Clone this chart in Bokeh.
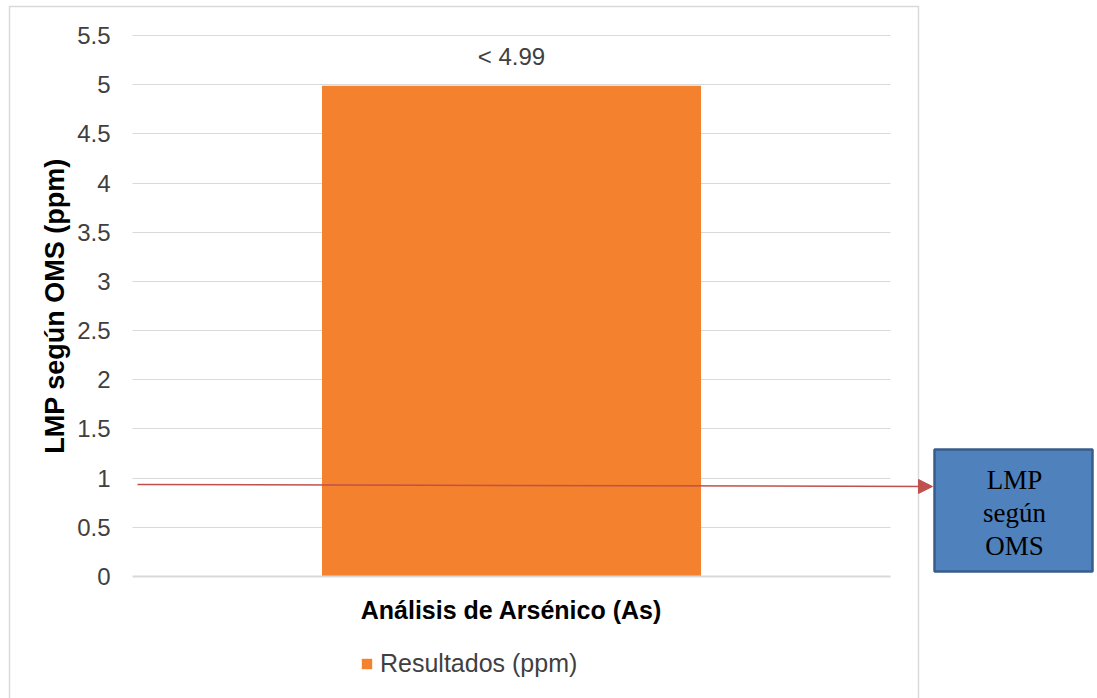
from bokeh.plotting import figure
from bokeh.models import (Range1d, ColumnDataSource, Legend, LegendItem, Arrow, Grid,
                          NormalHead, BoxAnnotation, Label, FixedTicker)
from bokeh.embed import file_html
from bokeh.resources import INLINE
from bokeh.core.properties import value

categories = ["Análisis de Arsénico (As)"]
series_name = "Resultados (ppm)"
values = [4.99]
value_labels = ["< 4.99"]
y_ticks = [0, 0.5, 1, 1.5, 2, 2.5, 3, 3.5, 4, 4.5, 5, 5.5]
y_title = "LMP según OMS (ppm)"
box_text = "LMP\nsegún\nOMS"
lmp_arrow_y = [0.935, 0.915]

FONT = "Liberation Sans"
SERIF = "Liberation Serif"

W, H = 1097, 698
# plot-area geometry (pixels) -> data ranges
PL, PR, PT, PB = 132, 890, 35, 576
xs = (PR - PL) / len(categories)
ys = (PB - PT) / 5.5
x_range = Range1d(-PL / xs, (W - PL) / xs)
y_range = Range1d(-(H - PB) / ys, PB / ys)

p = figure(width=W, height=H, x_range=x_range, y_range=y_range,
           output_backend="svg", toolbar_location=None,
           min_border=0, min_border_left=0, min_border_right=0,
           min_border_top=0, min_border_bottom=0)
p.outline_line_color = None
p.background_fill_color = "white"
p.border_fill_color = "white"

xpos = [i + 0.5 for i in range(len(categories))]
src = ColumnDataSource(dict(x=xpos, top=values, lab=value_labels))

# outer chart border
p.add_layout(BoxAnnotation(left=(9 - PL) / xs, right=(918 - PL) / xs, top=(PB - 6) / ys,
                           bottom=-2.5, fill_color=None, line_color="#D9D9D9", line_alpha=1,
                           line_width=1.5))

# grid lines limited to the plot area
p.xgrid.grid_line_color = None
p.ygrid.grid_line_color = None
grid = Grid(dimension=1, ticker=FixedTicker(ticks=y_ticks[1:]), grid_line_color="#D9D9D9",
            grid_line_width=1)
if "cross_bounds" in Grid.properties():
    grid.cross_bounds = (0, len(categories))
    p.add_layout(grid)
else:
    p.segment(x0=0, x1=len(categories), y0=y_ticks[1:], y1=y_ticks[1:],
              line_color="#D9D9D9", line_width=1)

r = p.vbar(x="x", top="top", width=0.5, source=src, fill_color="#F3812E", line_color=None)
p.text(x="x", y="top", text="lab", source=src, text_align="center", text_baseline="alphabetic",
       y_offset=-29, text_font=value(FONT), text_font_size="24px", text_color="#404040")

# y axis
p.yaxis.fixed_location = 0
p.yaxis.bounds = (0, 5.5)
p.yaxis.ticker = FixedTicker(ticks=y_ticks)
p.yaxis.axis_line_color = None
p.yaxis.major_tick_line_color = None
p.yaxis.major_tick_out = 0
p.yaxis.minor_tick_line_color = None
p.yaxis.major_label_text_font = FONT
p.yaxis.major_label_text_font_size = "24px"
p.yaxis.major_label_text_color = "#404040"
p.yaxis.major_label_standoff = 22
p.yaxis.axis_label = y_title
p.yaxis.axis_label_text_font = FONT
p.yaxis.axis_label_text_font_style = "bold"
p.yaxis.axis_label_text_font_size = "27px"
p.yaxis.axis_label_text_color = "black"
p.yaxis.axis_label_standoff = 4

# x axis (baseline + category label)
p.xaxis.fixed_location = 0
p.xaxis.bounds = (0, len(categories))
p.xaxis.ticker = FixedTicker(ticks=xpos)
p.xaxis.major_label_overrides = {xp: c for xp, c in zip(xpos, categories)}
p.xaxis.axis_line_color = "#D9D9D9"
p.xaxis.axis_line_width = 2
p.xaxis.major_tick_line_color = None
p.xaxis.major_tick_out = 0
p.xaxis.minor_tick_line_color = None
p.xaxis.major_label_text_font = FONT
p.xaxis.major_label_text_font_style = "bold"
p.xaxis.major_label_text_font_size = "25px"
p.xaxis.major_label_text_color = "black"
p.xaxis.major_label_standoff = 19

# legend
leg = Legend(items=[LegendItem(label=series_name, renderers=[r])], location=(360, 20),
             orientation="horizontal", label_text_font=FONT, label_text_font_size="25px",
             label_text_color="#404040", glyph_width=13, glyph_height=13, padding=0, margin=0,
             border_line_color=None, background_fill_alpha=0, label_standoff=7)
p.add_layout(leg, "center")

# LMP arrow
p.add_layout(Arrow(x_start=5 / xs, y_start=lmp_arrow_y[0], x_end=(932 - PL) / xs,
                   y_end=lmp_arrow_y[1], line_color="#C0504D", line_width=1.5,
                   end=NormalHead(size=14, fill_color="#C0504D", line_color="#C0504D")))

# blue box
p.add_layout(BoxAnnotation(left=(934 - PL) / xs, right=(1092 - PL) / xs, top=(PB - 449) / ys,
                           bottom=(PB - 571) / ys, fill_color="#4F81BD", fill_alpha=1,
                           line_color="#385D8A", line_alpha=1, line_width=2.5))
p.add_layout(Label(x=(1014 - PL) / xs, y=(PB - 512) / ys, text=box_text, text_align="center",
                   text_baseline="middle", text_font=SERIF, text_font_size="27px",
                   text_color="black", text_line_height=1.1))

open("out.html", "w").write(file_html(p, INLINE))
